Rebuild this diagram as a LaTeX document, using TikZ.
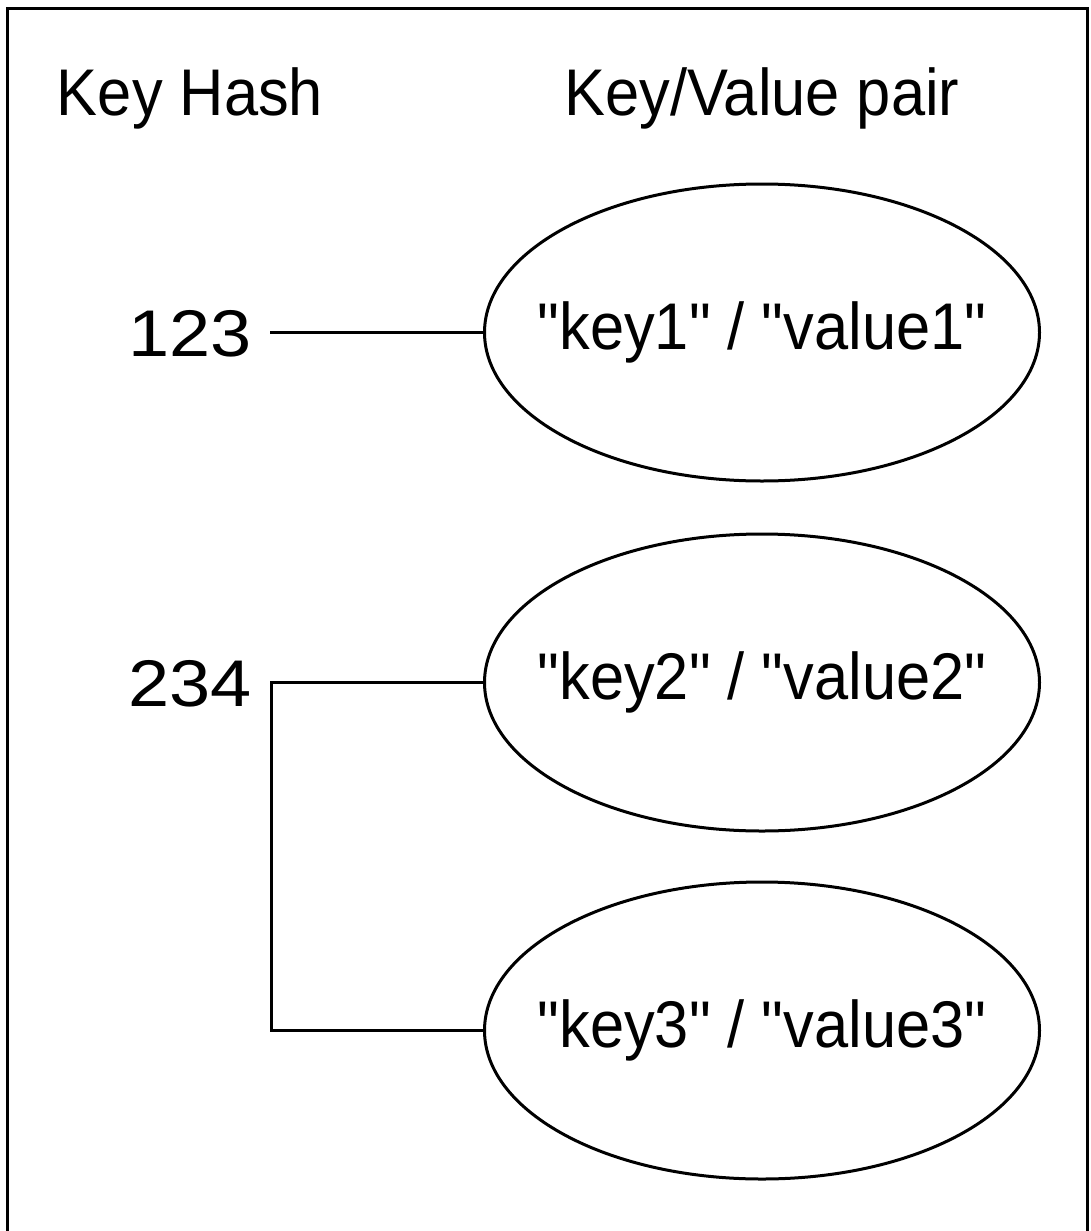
\documentclass[tikz,border=0pt]{standalone}
\usepackage{fontspec}
\setmainfont[FakeStretch=0.93, Ligatures=TeXOff]{Liberation Sans}
\newfontfamily\numfont[FakeStretch=1.12, Ligatures=TeXOff]{Liberation Sans}
\usetikzlibrary{shapes.geometric}
\newcommand{\pairtext}[1]{\makebox[0pt]{#1}}
\tikzset{
  pair/.style={ellipse, draw, line width=3pt, minimum width=555pt, minimum height=297pt, inner sep=0pt,
    font=\fontsize{66}{79}\selectfont},
  head/.style={anchor=base, inner sep=0pt, font=\fontsize{66}{79}\selectfont},
  hash/.style={anchor=base, inner sep=0pt, font=\numfont\fontsize{66}{79}\selectfont},
  conn/.style={line width=3pt},
  frame/.style={line width=3pt}
}
\begin{document}
\begin{tikzpicture}[x=1pt,y=-1pt]
\useasboundingbox (0,0) rectangle (1090,1231);
\draw[frame] (7,1231) -- (7,8.5) -- (1087.5,8.5) -- (1087.5,1231);

\node[head] (kh) at (190,115) {Key Hash};
\node[head] (kv) at (762,115) {Key/Value pair};

\node[hash] (h1) at (190,356) {123};
\node[hash] (h2) at (190,706) {234};

\node[pair] (e1) at (762,332.5) {\pairtext{"key1" / "value1"}};
\node[pair] (e2) at (762,682.5) {\pairtext{"key2" / "value2"}};
\node[pair] (e3) at (762,1030.5) {\pairtext{"key3" / "value3"}};

\coordinate (c1) at (270,332.5);
\coordinate (c2) at (271,682.5);

\draw[conn] (c1) -- (e1.west);
\draw[conn] (e2.west) -- (c2) |- (e3.west);
\end{tikzpicture}
\end{document}
